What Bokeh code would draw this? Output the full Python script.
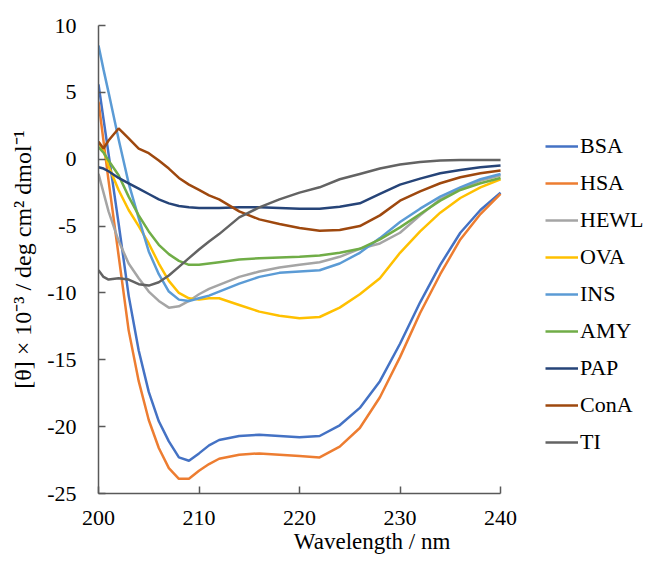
from bokeh.plotting import figure
from bokeh.models import Range1d, Legend, LegendItem, FixedTicker
from bokeh.embed import file_html
from bokeh.resources import INLINE

wavelength = [200, 200.5, 201, 202, 203, 204, 205, 206, 207, 208, 209, 210, 211, 212,
              214, 216, 218, 220, 222, 224, 226, 228, 230, 232, 234, 236, 238, 240]

BSA = [5.6, 3.0, 0.4, -4.8, -10.2, -14.3, -17.4, -19.6, -21.1, -22.3, -22.55, -22.0, -21.4, -21.0,
       -20.7, -20.6, -20.7, -20.8, -20.7, -19.9, -18.6, -16.6, -13.8, -10.7, -7.9, -5.5, -3.8, -2.5]
HSA = [4.3, 1.35, -1.6, -7.2, -12.8, -16.6, -19.5, -21.6, -23.1, -23.9, -23.9, -23.3, -22.8, -22.4,
       -22.1, -22.0, -22.1, -22.2, -22.3, -21.5, -20.1, -17.8, -14.8, -11.5, -8.6, -6.0, -4.1, -2.6]
HEWL = [-1.1, -2.5, -3.9, -6.1, -7.8, -8.9, -9.9, -10.6, -11.1, -11.0, -10.6, -10.1, -9.7, -9.4,
        -8.8, -8.4, -8.1, -7.9, -7.7, -7.3, -6.7, -6.3, -5.5, -4.2, -3.0, -2.2, -1.6, -1.2]
OVA = [1.3, 0.6, -0.5, -2.3, -3.8, -5.0, -6.3, -7.8, -9.1, -10.0, -10.4, -10.5, -10.4, -10.4,
       -10.9, -11.4, -11.7, -11.9, -11.8, -11.1, -10.1, -8.9, -7.0, -5.4, -4.0, -2.9, -2.1, -1.5]
INS = [8.5, 6.7, 5.0, 1.5, -1.8, -4.4, -6.9, -8.6, -9.9, -10.5, -10.6, -10.4, -10.2, -9.9,
       -9.3, -8.8, -8.5, -8.4, -8.3, -7.8, -7.0, -5.9, -4.7, -3.7, -2.8, -2.1, -1.5, -1.1]
AMY = [0.9, 0.5, -0.1, -1.2, -2.8, -4.2, -5.4, -6.4, -7.1, -7.6, -7.9, -7.9, -7.8, -7.7,
       -7.5, -7.4, -7.35, -7.3, -7.2, -7.0, -6.7, -6.0, -5.1, -4.1, -3.1, -2.3, -1.8, -1.4]
PAP = [-0.6, -0.7, -0.9, -1.4, -1.8, -2.2, -2.6, -3.0, -3.3, -3.5, -3.6, -3.65, -3.65, -3.65,
       -3.6, -3.6, -3.65, -3.7, -3.7, -3.55, -3.3, -2.6, -1.9, -1.45, -1.05, -0.8, -0.6, -0.47]
ConA = [1.3, 0.8, 1.4, 2.3, 1.55, 0.8, 0.45, -0.1, -0.7, -1.4, -1.9, -2.3, -2.7, -3.0,
        -3.9, -4.5, -4.85, -5.15, -5.35, -5.3, -5.0, -4.2, -3.1, -2.4, -1.8, -1.35, -1.05, -0.85]
TI = [-8.3, -8.8, -9.0, -8.9, -9.0, -9.35, -9.45, -9.2, -8.7, -8.05, -7.4, -6.75, -6.15, -5.6,
      -4.35, -3.6, -3.0, -2.5, -2.1, -1.5, -1.1, -0.7, -0.4, -0.2, -0.1, -0.05, -0.05, -0.05]

names = ["BSA", "HSA", "HEWL", "OVA", "INS", "AMY", "PAP", "ConA", "TI"]
series = [BSA, HSA, HEWL, OVA, INS, AMY, PAP, ConA, TI]
colors = ["#4472C4", "#ED7D31", "#A5A5A5", "#FFC000", "#5B9BD5", "#70AD47", "#264478", "#9E480E", "#636363"]

x_ticks = [200, 210, 220, 230, 240]
y_ticks = [-25, -20, -15, -10, -5, 0, 5, 10]
y_tick_labels = ["-25", "-20", "-15", "-10", "-5", "0", "5", "10"]
x_axis_bounds = (200, 240)

FONT = "Liberation Serif"

# the frame runs on to the right edge so the legend (drawn in the frame) is not clipped;
# the x axis itself is bounded to 200-240 nm
p = figure(width=651, height=564, output_backend="svg", toolbar_location=None,
           x_range=Range1d(200, 255.02), y_range=Range1d(-25, 10),
           min_border_left=98, min_border_right=0, min_border_top=25, min_border_bottom=71)
p.xgrid.visible = False
p.ygrid.visible = False
p.outline_line_color = None
p.background_fill_color = "white"
p.border_fill_color = "white"

items = []
for name, vals, col in zip(names, series, colors):
    r = p.line(wavelength, vals, line_color=col, line_width=2.5)
    items.append(LegendItem(label=name, renderers=[r]))

legend = Legend(items=items, location=(447, 38), padding=0, margin=0,
                border_line_color=None, background_fill_alpha=0,
                glyph_width=33, glyph_height=26, label_height=26, spacing=11,
                label_standoff=2, label_text_font=FONT, label_text_font_size="22px",
                label_text_color="#000000")
p.add_layout(legend)

p.xaxis.ticker = FixedTicker(ticks=x_ticks)
p.xaxis.bounds = x_axis_bounds
p.yaxis.ticker = FixedTicker(ticks=y_ticks)
p.yaxis.major_label_overrides = {t: s for t, s in zip(y_ticks, y_tick_labels)}

xax = p.xaxis[0]
yax = p.yaxis[0]
xax.axis_label = "Wavelength  / nm"
yax.axis_label = "[θ] × 10⁻³ / deg cm² dmol⁻¹"
for ax in (xax, yax):
    ax.major_tick_in = 7
    ax.major_tick_out = 0
    ax.minor_tick_line_color = None
    ax.axis_line_color = "#595959"
    ax.axis_line_width = 1.5
    ax.major_tick_line_color = "#595959"
    ax.major_tick_line_width = 1.5
    ax.major_label_text_font = FONT
    ax.major_label_text_font_size = "22px"
    ax.major_label_text_color = "#000000"
    ax.axis_label_text_font = FONT
    ax.axis_label_text_font_style = "normal"
    ax.axis_label_text_color = "#000000"

xax.axis_label_text_font_size = "23px"
yax.axis_label_text_font_size = "24px"
xax.major_label_standoff = 17
xax.axis_label_standoff = 1
yax.major_label_standoff = 22
yax.axis_label_standoff = 8

open("out.html", "w").write(file_html(p, INLINE))
